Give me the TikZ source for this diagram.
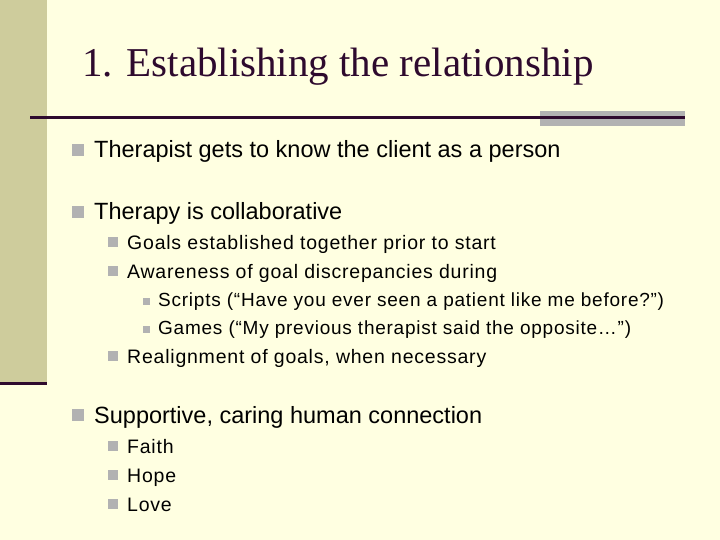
\documentclass[tikz,border=0pt]{standalone}
\usepackage{fontspec}
\setmainfont{Liberation Sans}
\newfontfamily\titlefont{Liberation Serif}
\newfontfamily\widefont[LetterSpace=4]{Liberation Sans}
\definecolor{slidebg}{RGB}{255,255,225}
\definecolor{stripbg}{RGB}{206,204,156}
\definecolor{darkline}{RGB}{46,10,46}
\definecolor{bulletgrey}{RGB}{178,178,178}
\tikzset{
  lvlone/.style={anchor=base west,font=\fontsize{23.5}{26}\selectfont,inner sep=0pt},
  lvltwo/.style={anchor=base west,font=\widefont\fontsize{19.5}{22}\selectfont,inner sep=0pt},
  lvlthree/.style={anchor=base west,font=\widefont\fontsize{19}{21}\selectfont,inner sep=0pt}
}
\newcommand{\sqbullet}[2]{\fill[bulletgrey] (#1) rectangle ++(#2,#2);}
\begin{document}
\begin{tikzpicture}[x=1pt,y=-1pt]
  \useasboundingbox (0,0) rectangle (720,540);
  \fill[slidebg] (0,0) rectangle (720,540);
  \fill[stripbg] (0,0) rectangle (47,385);
  \draw[darkline,line width=3pt] (0,383.5) -- (47,383.5);
  \fill[bulletgrey] (540,111) rectangle (685,126);
  \draw[darkline,line width=3pt] (30,117.5) -- (685,117.5);
  \node[anchor=base west,inner sep=0pt,font=\titlefont\fontsize{41}{46}\selectfont,text=darkline] (title) at (82,77) {1. Establishing the relationship};
  % level one
  \sqbullet{72,144}{12}
  \node[lvlone] (know) at (94,158) {Therapist gets to know the client as a person};
  \sqbullet{72,206}{12}
  \node[lvlone] (collab) at (94,220) {Therapy is collaborative};
  \sqbullet{108,237}{10}
  \node[lvltwo] (goals) at (127,249) {Goals established together prior to start};
  \sqbullet{108,266}{10}
  \node[lvltwo] (aware) at (127,278) {Awareness of goal discrepancies during};
  \sqbullet{143,298}{7}
  \node[lvlthree] (scripts) at (158,306) {Scripts (“Have you ever seen a patient like me before?”)};
  \sqbullet{143,326}{7}
  \node[lvlthree] (games) at (158,334) {Games (“My previous therapist said the opposite…”)};
  \sqbullet{108,351}{10}
  \node[lvltwo] (realign) at (127,363) {Realignment of goals, when necessary};
  \sqbullet{72,409}{12}
  \node[lvlone] (support) at (94,423) {Supportive, caring human connection};
  \sqbullet{108,441}{10}
  \node[lvltwo] (faith) at (127,453) {Faith};
  \sqbullet{108,470}{10}
  \node[lvltwo] (hope) at (127,482) {Hope};
  \sqbullet{108,499}{10}
  \node[lvltwo] (love) at (127,511) {Love};
\end{tikzpicture}
\end{document}
